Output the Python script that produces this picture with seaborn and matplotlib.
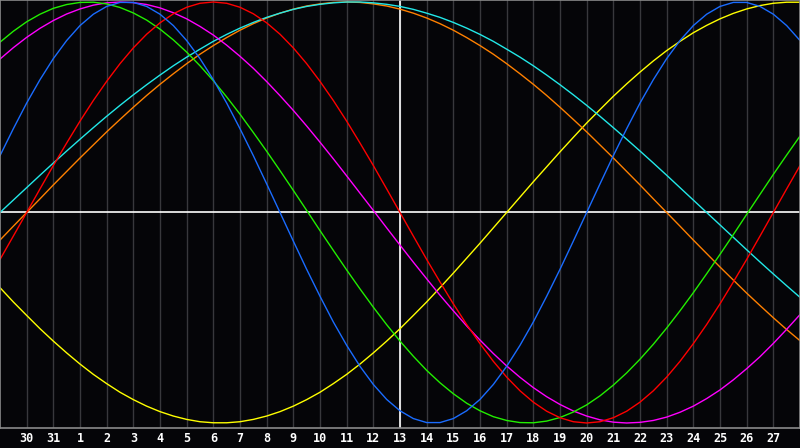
import numpy as np
import pandas as pd
import matplotlib
matplotlib.use('Agg')
import matplotlib.pyplot as plt
import seaborn as sns

# half-day positions: 0 = 29th of previous month ... 30 = 28th
days = [i / 2 for i in range(61)]
day_labels = ['30', '31'] + [str(d) for d in range(1, 28)]
label_pos = list(range(1, 30))

# values, every half day
red = [-0.223, -0.112, 0.0, 0.112, 0.223, 0.330, 0.434, 0.532, 0.623, 0.707, 0.782,
       0.847, 0.901, 0.944, 0.975, 0.994, 1.0, 0.994, 0.975, 0.944, 0.901,
       0.847, 0.782, 0.707, 0.623, 0.532, 0.434, 0.330, 0.223, 0.112, 0.0,
       -0.112, -0.223, -0.330, -0.434, -0.532, -0.623, -0.707, -0.782, -0.847, -0.901,
       -0.944, -0.975, -0.994, -1.0, -0.994, -0.975, -0.944, -0.901, -0.847, -0.782,
       -0.707, -0.623, -0.532, -0.434, -0.330, -0.223, -0.112, 0.0, 0.112, 0.223]
green = [0.809, 0.861, 0.906, 0.942, 0.970, 0.988, 0.998, 0.999, 0.991, 0.974, 0.948,
         0.914, 0.871, 0.820, 0.762, 0.697, 0.626, 0.549, 0.467, 0.380, 0.291,
         0.199, 0.105, 0.010, -0.086, -0.180, -0.273, -0.363, -0.450, -0.533, -0.611,
         -0.683, -0.750, -0.809, -0.861, -0.906, -0.942, -0.970, -0.988, -0.998, -0.999,
         -0.991, -0.974, -0.948, -0.914, -0.871, -0.820, -0.762, -0.697, -0.626, -0.549,
         -0.467, -0.381, -0.291, -0.199, -0.105, -0.009, 0.086, 0.181, 0.273, 0.363]
blue = [0.270, 0.398, 0.520, 0.631, 0.731, 0.817, 0.888, 0.942, 0.979, 0.998, 0.998,
        0.979, 0.942, 0.888, 0.817, 0.731, 0.631, 0.520, 0.398, 0.270, 0.136,
        0.0, -0.136, -0.270, -0.398, -0.520, -0.631, -0.731, -0.817, -0.888, -0.942,
        -0.979, -0.998, -0.998, -0.979, -0.942, -0.888, -0.817, -0.731, -0.631, -0.520,
        -0.398, -0.270, -0.136, 0.0, 0.136, 0.270, 0.398, 0.520, 0.631, 0.731,
        0.817, 0.888, 0.942, 0.979, 0.998, 0.998, 0.979, 0.942, 0.888, 0.817]
magenta = [0.729, 0.783, 0.832, 0.875, 0.912, 0.943, 0.967, 0.985, 0.996, 1.0, 0.997,
           0.988, 0.972, 0.949, 0.920, 0.884, 0.843, 0.795, 0.742, 0.685, 0.622,
           0.555, 0.485, 0.411, 0.334, 0.255, 0.174, 0.092, 0.010, -0.073, -0.155,
           -0.236, -0.315, -0.393, -0.467, -0.539, -0.606, -0.670, -0.729, -0.783, -0.832,
           -0.875, -0.912, -0.943, -0.967, -0.985, -0.996, -1.0, -0.997, -0.988, -0.972,
           -0.949, -0.920, -0.884, -0.843, -0.795, -0.742, -0.685, -0.622, -0.555, -0.485]
cyan = [0.0, 0.059, 0.118, 0.177, 0.235, 0.292, 0.348, 0.403, 0.457, 0.509, 0.559,
        0.607, 0.653, 0.697, 0.738, 0.776, 0.813, 0.846, 0.876, 0.903, 0.927,
        0.947, 0.965, 0.979, 0.989, 0.996, 1.0, 1.0, 0.996, 0.989, 0.979,
        0.965, 0.947, 0.927, 0.903, 0.876, 0.846, 0.813, 0.776, 0.738, 0.697,
        0.653, 0.607, 0.559, 0.509, 0.457, 0.403, 0.348, 0.292, 0.235, 0.177,
        0.118, 0.059, 0.0, -0.059, -0.118, -0.177, -0.235, -0.292, -0.348, -0.403]
orange = [-0.131, -0.065, 0.0, 0.065, 0.131, 0.195, 0.259, 0.321, 0.383, 0.442, 0.5,
          0.556, 0.609, 0.659, 0.707, 0.752, 0.793, 0.831, 0.866, 0.897, 0.924,
          0.947, 0.966, 0.981, 0.991, 0.998, 1.0, 0.998, 0.991, 0.981, 0.966,
          0.947, 0.924, 0.897, 0.866, 0.831, 0.793, 0.752, 0.707, 0.659, 0.609,
          0.556, 0.5, 0.442, 0.383, 0.321, 0.259, 0.195, 0.131, 0.065, 0.0,
          -0.065, -0.131, -0.195, -0.259, -0.321, -0.383, -0.442, -0.5, -0.556, -0.609]
yellow = [-0.357, -0.425, -0.489, -0.552, -0.611, -0.667, -0.720, -0.769, -0.813, -0.854, -0.889,
          -0.920, -0.946, -0.967, -0.983, -0.994, -0.999, -0.999, -0.994, -0.983, -0.967,
          -0.946, -0.920, -0.889, -0.854, -0.813, -0.769, -0.720, -0.667, -0.611, -0.552,
          -0.489, -0.425, -0.357, -0.288, -0.217, -0.146, -0.073, 0.0, 0.073, 0.146,
          0.217, 0.288, 0.357, 0.425, 0.489, 0.552, 0.611, 0.667, 0.720, 0.769,
          0.813, 0.854, 0.889, 0.920, 0.946, 0.967, 0.983, 0.994, 0.999, 0.999]

series = {'yellow': yellow, 'orange': orange, 'cyan': cyan, 'magenta': magenta,
          'green': green, 'red': red, 'blue': blue}
colors = {'yellow': '#ffff00', 'orange': '#ff8000', 'cyan': '#22e8e8', 'magenta': '#ff00ff',
          'green': '#22ee00', 'red': '#ff0000', 'blue': '#1a6cff'}

df = pd.concat([pd.DataFrame({'day': days, 'value': v, 'cycle': k}) for k, v in series.items()])

sns.set_style('dark')
fig = plt.figure(figsize=(8, 4.48), dpi=100, facecolor='#050508')
ax = fig.add_axes([0, 20 / 448, 1, 428 / 448])
ax.set_facecolor('#050508')

for p in range(1, 30):
    ax.axvline(p, color='#38383c', lw=1, zorder=0)
ax.axvline(15, color='white', lw=1.2, zorder=1)
ax.axhline(0, color='white', lw=1.2, zorder=1)

sns.lineplot(data=df, x='day', y='value', hue='cycle', palette=colors, legend=False,
             lw=1, ax=ax, zorder=2, sort=False)

ax.set_xlim(0, 30)
ax.set_ylim(-1.0238, 1.0095)
ax.set_xticks(label_pos)
ax.set_xticklabels(day_labels, color='white', fontsize=8.5, fontweight='bold',
                   family='DejaVu Sans Mono')
ax.tick_params(axis='x', length=0, pad=3)
ax.set_yticks([])
ax.set_xlabel('')
ax.set_ylabel('')
ax.grid(False)
for s in ax.spines.values():
    s.set_visible(True)
    s.set_color('#8a8a8a')
    s.set_linewidth(1.2)

fig.savefig('out.png', dpi=100, facecolor='#050508')
